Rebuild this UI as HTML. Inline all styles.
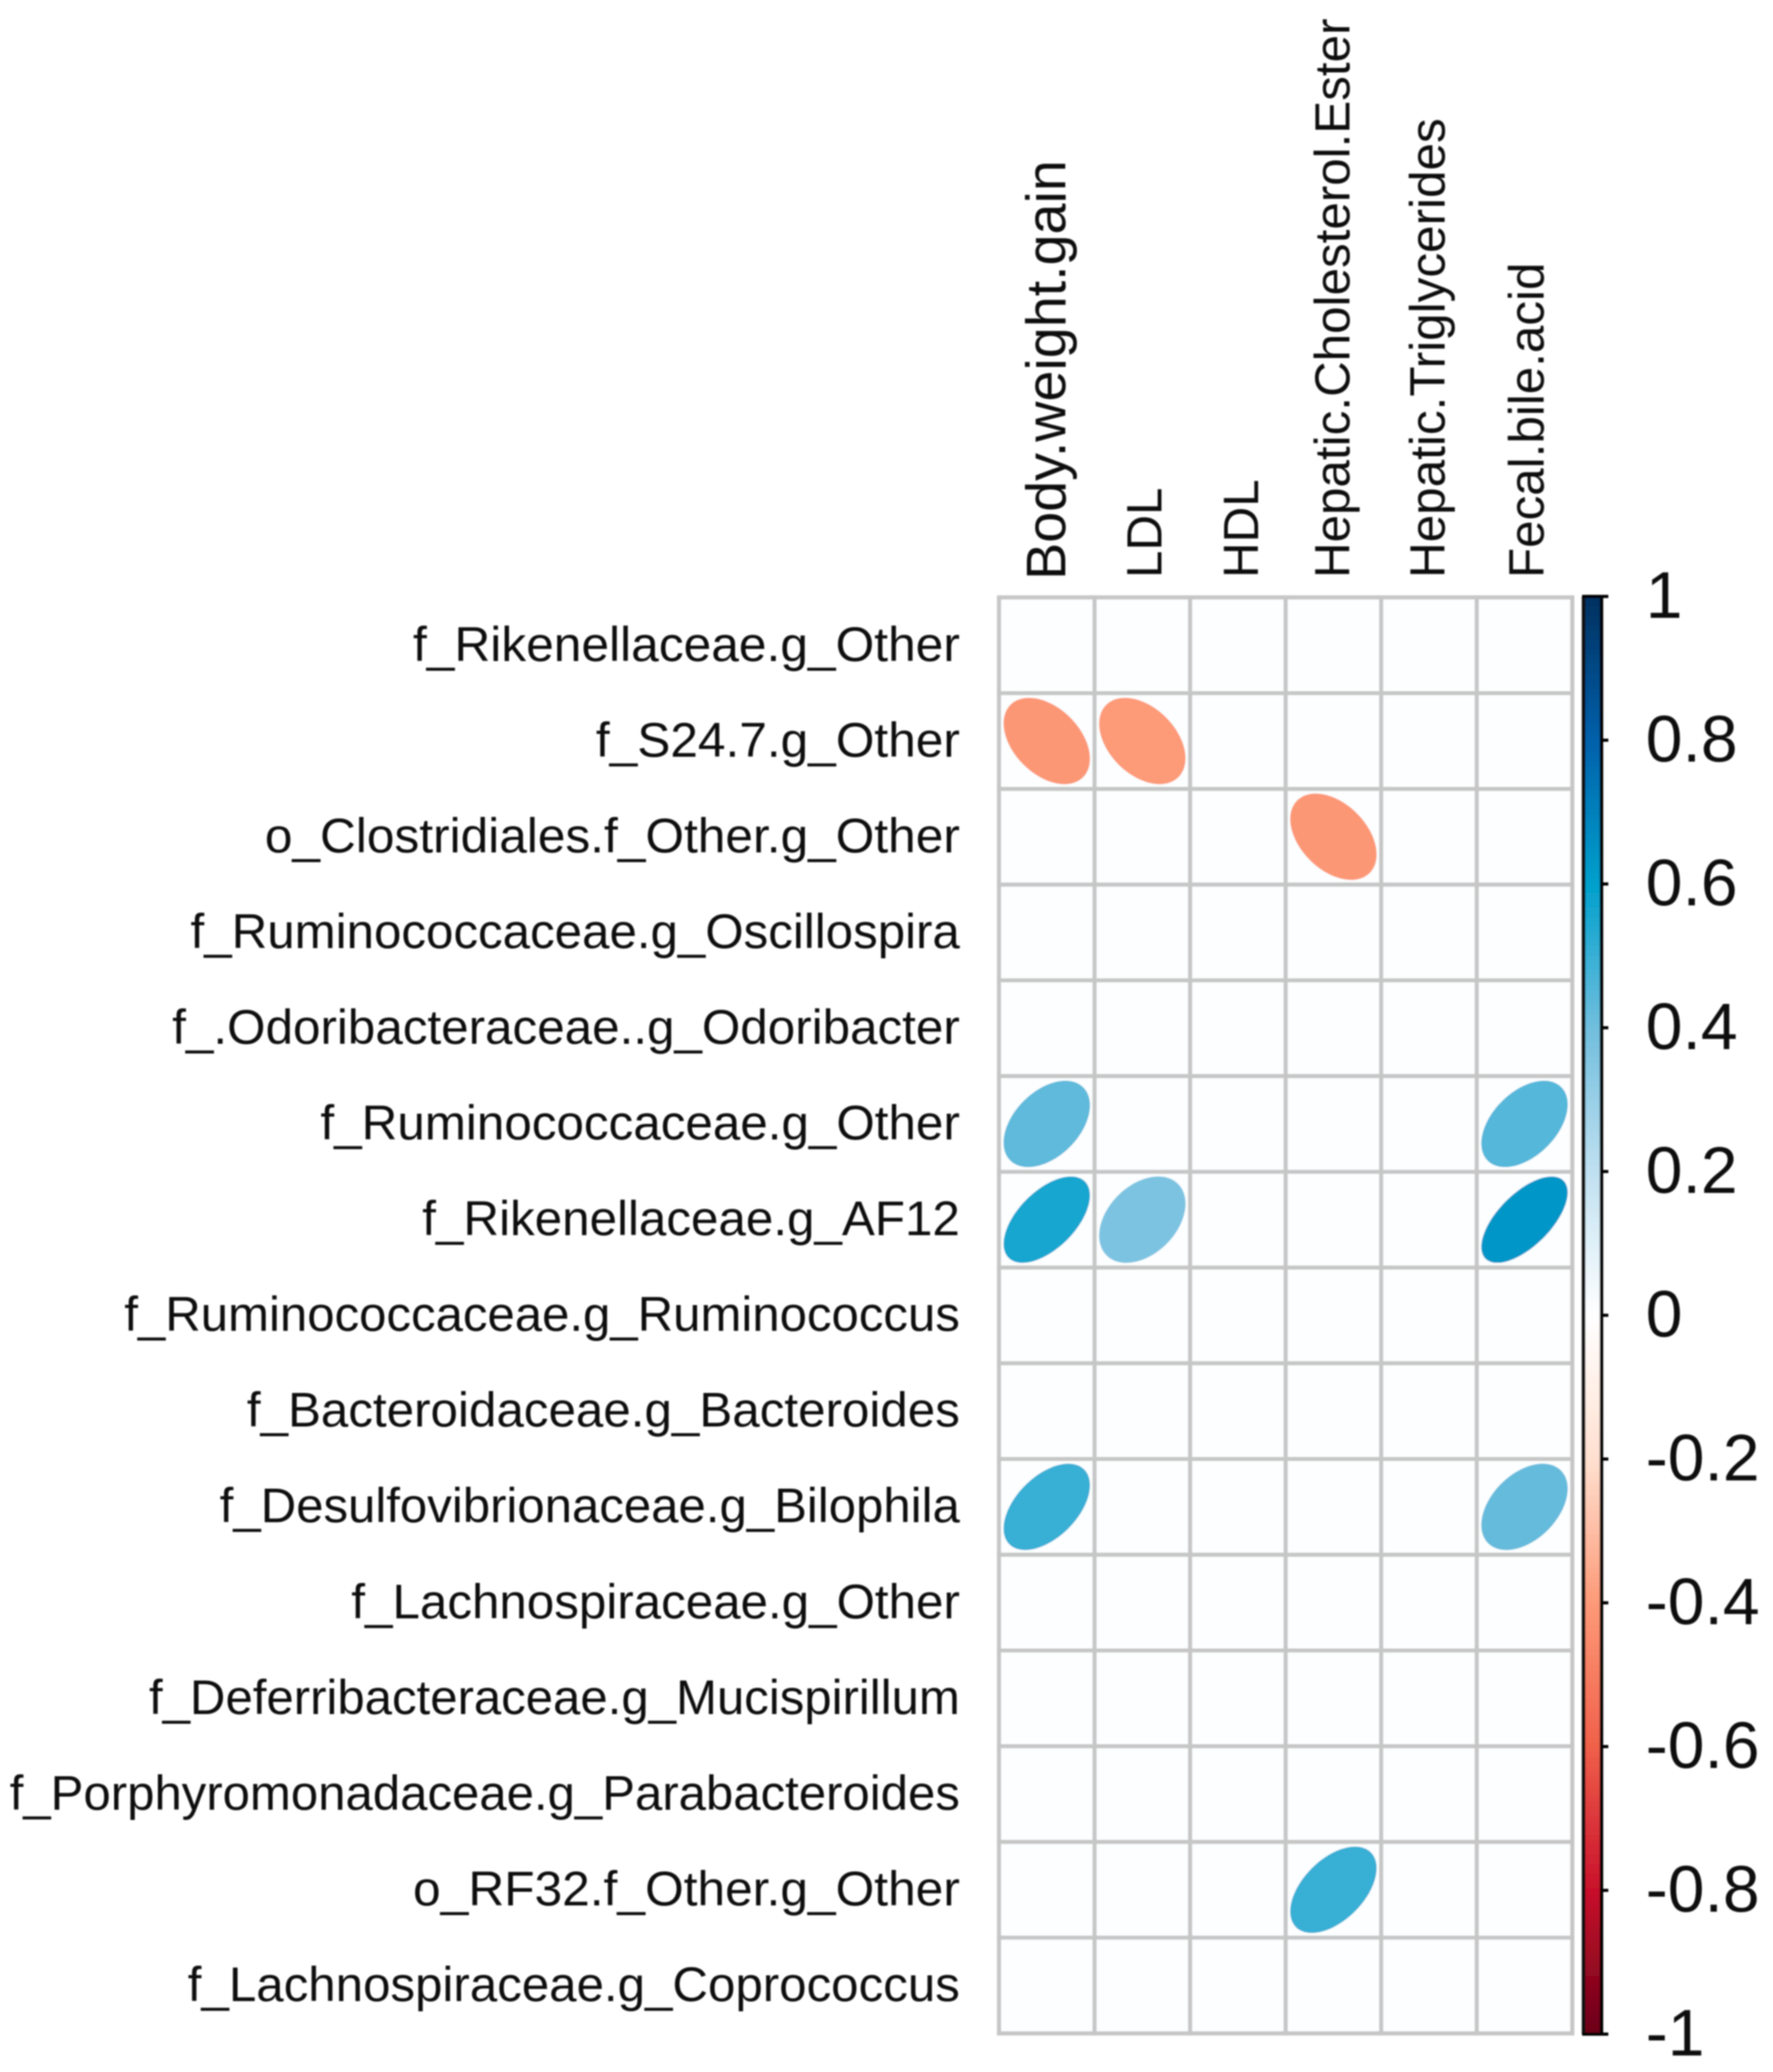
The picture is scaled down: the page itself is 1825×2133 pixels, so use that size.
<!DOCTYPE html>
<html lang="en">
<head>
<meta charset="utf-8">
<title>Correlation plot</title>
<style>
  html, body { margin: 0; padding: 0; background: #ffffff; }
  #chart { display: block; width: 1825px; height: 2133px; }
  text { font-family: "Liberation Sans", Arial, sans-serif; fill: #0a0a0a; }
</style>
</head>
<body>
<svg id="chart" xmlns="http://www.w3.org/2000/svg" width="1825" height="2133" viewBox="0 0 1825 2133">
  <defs>
    <filter id="soft" x="-5%" y="-5%" width="110%" height="110%"><feGaussianBlur stdDeviation="0.7"/></filter>
  </defs>
  <rect x="0" y="0" width="1825" height="2133" fill="#ffffff"/>
  <g id="root" filter="url(#soft)"></g>
</svg>
<script>
const rowLabels = [
  "f_Rikenellaceae.g_Other",
  "f_S24.7.g_Other",
  "o_Clostridiales.f_Other.g_Other",
  "f_Ruminococcaceae.g_Oscillospira",
  "f_.Odoribacteraceae..g_Odoribacter",
  "f_Ruminococcaceae.g_Other",
  "f_Rikenellaceae.g_AF12",
  "f_Ruminococcaceae.g_Ruminococcus",
  "f_Bacteroidaceae.g_Bacteroides",
  "f_Desulfovibrionaceae.g_Bilophila",
  "f_Lachnospiraceae.g_Other",
  "f_Deferribacteraceae.g_Mucispirillum",
  "f_Porphyromonadaceae.g_Parabacteroides",
  "o_RF32.f_Other.g_Other",
  "f_Lachnospiraceae.g_Coprococcus"
];
const columnLabels = ["Body.weight.gain", "LDL", "HDL", "Hepatic.Cholesterol.Ester", "Hepatic.Triglycerides", "Fecal.bile.acid"];
const bodyWeightGain = [null, -0.41, null, null, null, 0.43, 0.56, null, null, 0.5, null, null, null, null, null];
const ldl = [null, -0.40, null, null, null, null, 0.37, null, null, null, null, null, null, null, null];
const hdl = [null, null, null, null, null, null, null, null, null, null, null, null, null, null, null];
const hepaticCholesterolEster = [null, null, -0.41, null, null, null, null, null, null, null, null, null, null, 0.5, null];
const hepaticTriglycerides = [null, null, null, null, null, null, null, null, null, null, null, null, null, null, null];
const fecalBileAcid = [null, null, null, null, null, 0.45, 0.63, null, null, 0.42, null, null, null, null, null];
const columnSeries = [bodyWeightGain, ldl, hdl, hepaticCholesterolEster, hepaticTriglycerides, fecalBileAcid];
const tickValues = [1, 0.8, 0.6, 0.4, 0.2, 0, -0.2, -0.4, -0.6, -0.8, -1];
const tickLabels = ["1", "0.8", "0.6", "0.4", "0.2", "0", "-0.2", "-0.4", "-0.6", "-0.8", "-1"];
const rampValues = [-1, -0.8, -0.6, -0.4, -0.2, 0, 0.2, 0.4, 0.6, 0.8, 1];
const rampColors = ["#6a0018", "#c8102b", "#f0604a", "#fd9a78", "#ffe0d0", "#ffffff", "#bfe0f0", "#70bede", "#00a0cc", "#0060aa", "#05305f"];

const NS = "http://www.w3.org/2000/svg";
const root = document.getElementById("root");
const gridLeft = 1028.3, cellW = 98.35, gridTop = 615, cellH = 98.55;
const barZero = 1354, barPerUnit = 740;
const ellipseRadius = 44.5;
/* typographic fit of the labels to the reference rendering */
const rowLabelExtraWidth = [7, 4, 8, 3, 5, 4, 3, 1, 4, 1, 3, 1, 1, 7, 3];
const columnLabelSizes = [57.3, 50.8, 50.8, 50.8, 50.9, 50.8];
const columnLabelOffsets = [18.9, 19.8, 20.8, 16.4, 16.1, 19.7];

function xEdge(c) { return gridLeft + c * cellW; }
function yEdge(r) { return gridTop + r * cellH; }
function xCenter(c) { return xEdge(c + 0.5); }
function yCenter(r) { return yEdge(r + 0.5); }
function barY(v) { return barZero - barPerUnit * v; }

function hexToRgb(h) {
  return [parseInt(h.slice(1, 3), 16), parseInt(h.slice(3, 5), 16), parseInt(h.slice(5, 7), 16)];
}
function colorFor(v) {
  const x = Math.max(-1, Math.min(1, v));
  let i = 0;
  while (i < rampValues.length - 2 && x > rampValues[i + 1]) i++;
  const t = (x - rampValues[i]) / (rampValues[i + 1] - rampValues[i]);
  const a = hexToRgb(rampColors[i]), b = hexToRgb(rampColors[i + 1]);
  const m = a.map((p, k) => Math.round(p + (b[k] - p) * t));
  return "rgb(" + m.join(",") + ")";
}
function svgEl(tag, parent) {
  const el = document.createElementNS(NS, tag);
  parent.appendChild(el);
  return el;
}
function ellipsePath(r, cx, cy) {
  const d = Math.acos(r);
  let p = "";
  for (let k = 0; k < 120; k++) {
    const t = (k / 120) * 2 * Math.PI;
    const dx = ellipseRadius * Math.cos(t + d / 2);
    const dy = ellipseRadius * Math.cos(t - d / 2);
    p += (k ? "L" : "M") + (cx + dx).toFixed(2) + " " + (cy - dy).toFixed(2);
  }
  return p + "Z";
}

/* cell backgrounds */
const cellsGroup = svgEl("g", root);


rowLabels.forEach((_, r) => {
  columnLabels.forEach((_, c) => {
    const cell = svgEl("rect", cellsGroup);
    
    
    cell.setAttribute("x", xEdge(c));
    cell.setAttribute("y", yEdge(r));
    cell.setAttribute("width", cellW);
    cell.setAttribute("height", cellH);
    cell.setAttribute("fill", "#fcfeff");
  });
});

/* ellipses */
const marksGroup = svgEl("g", root);


columnSeries.forEach((series, c) => {
  series.forEach((value, r) => {
    if (value === null) return;
    const mark = svgEl("path", marksGroup);
    
    
    mark.setAttribute("d", ellipsePath(value, xCenter(c), yCenter(r)));
    mark.setAttribute("fill", colorFor(value));
  });
});

/* grid lines */
const gridGroup = svgEl("g", root);


for (let c = 0; c <= columnLabels.length; c++) {
  const line = svgEl("line", gridGroup);
  
  
  line.setAttribute("x1", xEdge(c));
  line.setAttribute("x2", xEdge(c));
  line.setAttribute("y1", yEdge(0) - 2);
  line.setAttribute("y2", yEdge(rowLabels.length) + 2);
  line.setAttribute("stroke", "#c6c6c6");
  line.setAttribute("stroke-width", "4.2");
}
for (let r = 0; r <= rowLabels.length; r++) {
  const line = svgEl("line", gridGroup);
  
  
  line.setAttribute("x1", xEdge(0) - 2);
  line.setAttribute("x2", xEdge(columnLabels.length) + 2);
  line.setAttribute("y1", yEdge(r));
  line.setAttribute("y2", yEdge(r));
  line.setAttribute("stroke", "#c6c6c6");
  line.setAttribute("stroke-width", "4.2");
}

/* row labels */
const rowGroup = svgEl("g", root);


rowLabels.forEach((label, r) => {
  const t = svgEl("text", rowGroup);
  
  
  t.setAttribute("x", 988);
  t.setAttribute("y", yCenter(r) + 16);
  t.setAttribute("text-anchor", "end");
  t.setAttribute("font-size", "50.5");
  t.textContent = label;
  const natural = t.getComputedTextLength();
  t.setAttribute("textLength", (natural + rowLabelExtraWidth[r]).toFixed(1));
  t.setAttribute("lengthAdjust", "spacingAndGlyphs");
});

/* column labels */
const colGroup = svgEl("g", root);


columnLabels.forEach((label, c) => {
  const t = svgEl("text", colGroup);
  
  
  const bx = xCenter(c) + columnLabelOffsets[c];
  const by = c === 0 ? 597 : 595;
  t.setAttribute("transform", "translate(" + bx.toFixed(1) + "," + by + ") rotate(-90)");
  t.setAttribute("font-size", columnLabelSizes[c]);
  t.textContent = label;
});

/* colour bar */
const barGroup = svgEl("g", root);


const barSteps = 296;
for (let k = 0; k < barSteps; k++) {
  const v0 = 1 - (2 * k) / barSteps;
  const v1 = 1 - (2 * (k + 1)) / barSteps;
  const seg = svgEl("rect", barGroup);
  
  
  seg.setAttribute("x", 1630);
  seg.setAttribute("width", 18);
  seg.setAttribute("y", barY(v0));
  seg.setAttribute("height", barY(v1) - barY(v0) + 0.5);
  seg.setAttribute("fill", colorFor((v0 + v1) / 2));
}
const barLeft = svgEl("line", barGroup);


barLeft.setAttribute("x1", 1630);
barLeft.setAttribute("x2", 1630);
barLeft.setAttribute("y1", barY(1));
barLeft.setAttribute("y2", barY(-1));
barLeft.setAttribute("stroke", "#111111");
barLeft.setAttribute("stroke-width", "3.6");
const barRight = svgEl("line", barGroup);


barRight.setAttribute("x1", 1648.5);
barRight.setAttribute("x2", 1648.5);
barRight.setAttribute("y1", barY(1));
barRight.setAttribute("y2", barY(-1));
barRight.setAttribute("stroke", "#000000");
barRight.setAttribute("stroke-width", "3.4");
tickValues.forEach((v, i) => {
  const isEnd = Math.abs(v) === 1;
  const tick = svgEl("line", barGroup);
  
  
  tick.setAttribute("x1", isEnd ? 1628.5 : 1648);
  tick.setAttribute("x2", 1655.5);
  tick.setAttribute("y1", barY(v));
  tick.setAttribute("y2", barY(v));
  tick.setAttribute("stroke", "#000000");
  tick.setAttribute("stroke-width", "3.2");
  const t = svgEl("text", barGroup);
  
  
  t.setAttribute("x", 1694);
  t.setAttribute("y", barY(v) + 22);
  t.setAttribute("font-size", "68");
  t.textContent = tickLabels[i];
});
</script>
</body>
</html>
